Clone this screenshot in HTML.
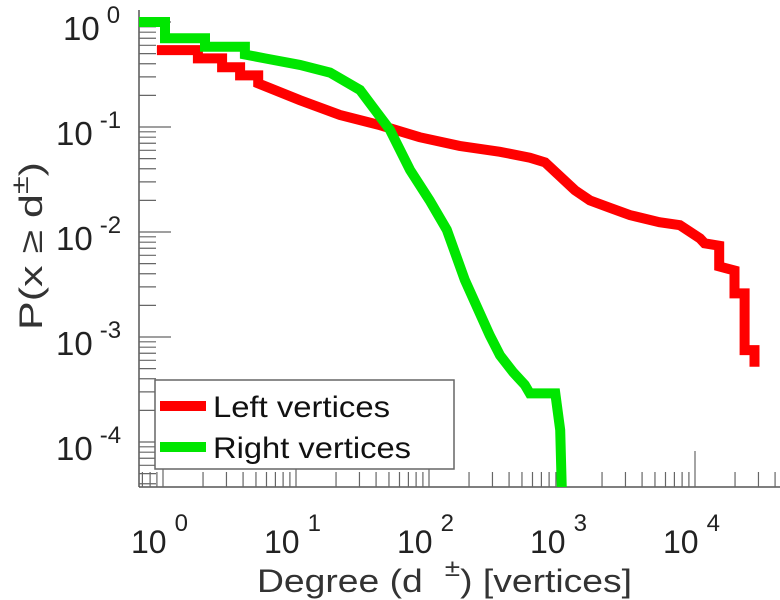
<!DOCTYPE html>
<html><head><meta charset="utf-8">
<style>
html,body{margin:0;padding:0;background:#fff;}
svg{display:block;font-family:"Liberation Sans",Arial,sans-serif;}
</style></head>
<body>
<svg id="chart" width="780" height="600" viewBox="0 0 780 600" xmlns="http://www.w3.org/2000/svg"></svg>
<script>
const xTickExps = [0, 1, 2, 3, 4];
const yTickExps = [0, -1, -2, -3, -4];
const leftDeg = [0.9,1.83,1.83,2.78,2.78,3.8,3.8,5.2,5.2,10.7,21.4,42.8,85,170,342,574,746,1250,1620,2290,3240,5400,7700,10900,11800,15200,15200,19800,19800,23600,23600,28000,28000];
const leftProb = [0.54,0.54,0.45,0.45,0.37,0.37,0.31,0.31,0.26,0.18,0.13,0.104,0.08,0.066,0.058,0.051,0.046,0.025,0.02,0.017,0.0145,0.0124,0.0116,0.0087,0.0078,0.0074,0.0047,0.0043,0.0026,0.0026,0.00075,0.00075,0.00052];
const rightDeg = [0.66,1.035,1.035,2.07,2.07,4.13,4.13,5.85,10.7,18,30.3,50.8,72,101,136,186,286,342,430,525,573,890,970,1000];
const rightProb = [1,1,0.70,0.70,0.58,0.58,0.49,0.45,0.39,0.33,0.225,0.094,0.039,0.02,0.0105,0.0035,0.00104,0.00067,0.00046,0.00035,0.00029,0.00029,0.00013,0.00003];

const NS = "http://www.w3.org/2000/svg";
const svg = document.getElementById('chart');
const X0 = 163, XD = 133, Y0 = 22, YD = 105;
const L = 139, R = 780, T = 10, B = 487;
function xs(d){ return X0 + XD*Math.log10(d); }
function ys(p){ return Y0 - YD*Math.log10(p); }
function mk(tag, attrs, parent){ const e=document.createElementNS(NS,tag); for(const k in attrs) e.setAttribute(k,attrs[k]); (parent||svg).appendChild(e); return e; }

const defs = mk('defs',{});
const cp = mk('clipPath',{id:'plotclip'},defs);
mk('rect',{x:L,y:T,width:R-L,height:B-T},cp);

const axes = mk('g',{});


mk('line',{x1:L,y1:T,x2:L,y2:B,stroke:'#555','stroke-width':1.5},axes);
mk('line',{x1:L,y1:B,x2:R,y2:B,stroke:'#555','stroke-width':1.5},axes);
for (let e=1; e>=-5; e--) {
  for (let m=1; m<10; m++) {
    const y = ys(m*Math.pow(10,e));
    if (y < T || y > B) continue;
    const len = m===1 ? 32 : 17;
    const t = mk('line',{x1:L,y1:y,x2:L+len,y2:y,stroke:'#666','stroke-width':1.2},axes);
    
    
  }
}
for (let e=-1; e<=4; e++) {
  for (let m=1; m<10; m++) {
    const x = xs(m*Math.pow(10,e));
    if (x < L || x > R) continue;
    const len = m===1 ? 36 : 15;
    const t = mk('line',{x1:x,y1:B,x2:x,y2:B-len,stroke:'#666','stroke-width':1.2},axes);
    
    
  }
}
xTickExps.forEach(function(e){
  const t = mk('text',{x:xs(Math.pow(10,e))-32,y:553,'font-size':32,fill:'#222'});
  
  
  t.textContent='10';
  const s = mk('tspan',{dx:8,dy:-22,'font-size':24},t);
  s.textContent=String(e);
});
yTickExps.forEach(function(e){
  const t = mk('text',{x:e===0?63:56,y:ys(Math.pow(10,e))+18,'font-size':33,fill:'#222'});
  
  
  t.textContent='10';
  const s = mk('tspan',{dx:7,dy:-17,'font-size':24},t);
  s.textContent=String(e);
});

function series(ds, ps, color, name){
  let d='';
  for (let i=0;i<ds.length;i++){ d += (i?'L':'M') + xs(ds[i]).toFixed(1)+','+ys(ps[i]).toFixed(1); }
  const p = mk('path',{d:d,fill:'none',stroke:color,'stroke-width':10,'stroke-linejoin':'miter','clip-path':'url(#plotclip)'});
  
  
}
series(leftDeg,leftProb,'#ff0000','left-vertices-line');
series(rightDeg,rightProb,'#00e600','right-vertices-line');

const lg = mk('g',{});


mk('rect',{x:155,y:380,width:299,height:89,fill:'#fff',stroke:'#666','stroke-width':1.5},lg);
mk('line',{x1:160,y1:406,x2:206,y2:406,stroke:'#ff0000','stroke-width':10},lg);
mk('line',{x1:160,y1:447,x2:206,y2:447,stroke:'#00e600','stroke-width':10},lg);
const l1 = mk('text',{x:213,y:417,'font-size':30,fill:'#111',textLength:177,lengthAdjust:'spacingAndGlyphs'},lg);


l1.textContent='Left vertices';
const l2 = mk('text',{x:213,y:458,'font-size':30,fill:'#111',textLength:198,lengthAdjust:'spacingAndGlyphs'},lg);


l2.textContent='Right vertices';

const xt = mk('text',{x:257,y:592,'font-size':32,fill:'#333',textLength:375,lengthAdjust:'spacingAndGlyphs'});


xt.innerHTML='Degree (d <tspan dx="10" dy="-16" font-size="24">±</tspan><tspan dy="16">) [vertices]</tspan>';
const yt = mk('text',{x:0,y:0,'font-size':32,fill:'#333',transform:'translate(42,330) rotate(-90)',textLength:168,lengthAdjust:'spacingAndGlyphs'});


yt.innerHTML='P(x ≥ d<tspan dy="-14" font-size="24">±</tspan><tspan dy="14">)</tspan>';
</script>
</body></html>
